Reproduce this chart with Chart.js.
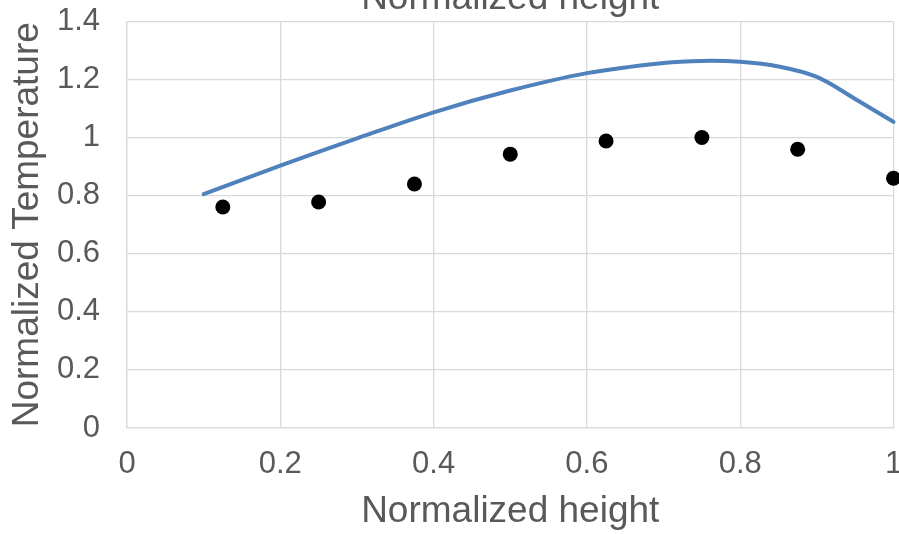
<!DOCTYPE html>
<html>
<head>
<meta charset="utf-8">
<script src="https://cdn.jsdelivr.net/npm/chart.js@4/dist/chart.umd.min.js"></script>
<style>
  html, body { margin: 0; padding: 0; background: #ffffff; }
  #frame { position: relative; width: 899px; height: 534px; overflow: hidden; }
  #holder { position: absolute; left: 0; top: -23px; width: 901px; height: 557px; }
</style>
</head>
<body>
<div id="frame"><div id="holder"><canvas id="chart" width="901" height="557"></canvas></div></div>
<script>
// Measured temperatures at the sensor heights
const measuredHeight = [0.125, 0.25, 0.375, 0.5, 0.625, 0.75, 0.875, 1.0];
const measuredTemp   = [0.761, 0.778, 0.840, 0.943, 0.988, 1.000, 0.960, 0.860];

// Model temperature profile
const modelHeight = [0.10, 0.20, 0.30, 0.40, 0.50, 0.60, 0.70, 0.75, 0.80, 0.85, 0.90, 0.95, 1.00];
const modelTemp   = [0.805, 0.903, 0.997, 1.087, 1.162, 1.222, 1.257, 1.264, 1.261, 1.245, 1.209, 1.133, 1.054];

// Axis ticks
const xTicks = [0, 0.2, 0.4, 0.6, 0.8, 1];
const yTicks = [0, 0.2, 0.4, 0.6, 0.8, 1, 1.2, 1.4];

const FONT = '"Liberation Sans", Arial, sans-serif';
const TEXT = '#595959';
const GRID = '#d9d9d9';

const toPoints = (xs, ys) => xs.map((x, i) => ({ x: x, y: ys[i] }));

new Chart(document.getElementById('chart'), {
  type: 'scatter',
  data: {
    datasets: [
      {
        label: 'Model',
        data: toPoints(modelHeight, modelTemp),
        showLine: true,
        borderColor: '#4f81bd',
        borderWidth: 4,
        borderCapStyle: 'round',
        borderJoinStyle: 'round',
        tension: 0.35,
        pointRadius: 0,
        pointHoverRadius: 0,
        fill: false,
        clip: false,
        order: 2
      },
      {
        label: 'Measured',
        data: toPoints(measuredHeight, measuredTemp),
        showLine: false,
        pointRadius: 7.5,
        pointBackgroundColor: '#000000',
        pointBorderColor: '#000000',
        pointBorderWidth: 0,
        clip: false,
        order: 1
      }
    ]
  },
  options: {
    responsive: false,
    animation: false,
    devicePixelRatio: 1,
    layout: { padding: { left: 0, right: 0, top: 0, bottom: 0 } },
    plugins: {
      legend: { display: false },
      tooltip: { enabled: false },
      title: {
        display: true,
        text: 'Normalized height',
        fullSize: false,
        color: TEXT,
        font: { family: FONT, size: 37, weight: 'normal', lineHeight: 1.2 },
        padding: { top: 0, bottom: 0 }
      }
    },
    scales: {
      x: {
        type: 'linear',
        min: 0,
        max: 1,
        afterBuildTicks: (s) => { s.ticks = xTicks.map(v => ({ value: v })); },
        afterFit: (s) => { s.height = 106; s.paddingLeft = 0; s.paddingRight = 2; },
        grid: { color: GRID, lineWidth: 1.3, drawTicks: false },
        border: { color: GRID, width: 1.3 },
        ticks: {
          color: TEXT,
          padding: 18,
          maxRotation: 0,
          font: { family: FONT, size: 31 },
          callback: (v) => String(v)
        },
        title: {
          display: true,
          text: 'Normalized height',
          color: TEXT,
          font: { family: FONT, size: 37, lineHeight: 1.2 },
          padding: { top: 0, bottom: 0 }
        }
      },
      y: {
        type: 'linear',
        min: 0,
        max: 1.4,
        afterBuildTicks: (s) => { s.ticks = yTicks.map(v => ({ value: v })); },
        afterFit: (s) => { s.width = 127; s.paddingTop = 0; s.paddingBottom = 0; },
        grid: { color: GRID, lineWidth: 1.3, drawTicks: false },
        border: { color: GRID, width: 1.3 },
        ticks: {
          color: TEXT,
          padding: 27,
          font: { family: FONT, size: 31 },
          callback: (v) => String(Math.round(v * 10) / 10)
        },
        title: {
          display: true,
          text: 'Normalized Temperature',
          color: TEXT,
          font: { family: FONT, size: 37, lineHeight: 1.2 },
          padding: { top: 6, bottom: 0 }
        }
      }
    }
  }
});
</script>
</body>
</html>
